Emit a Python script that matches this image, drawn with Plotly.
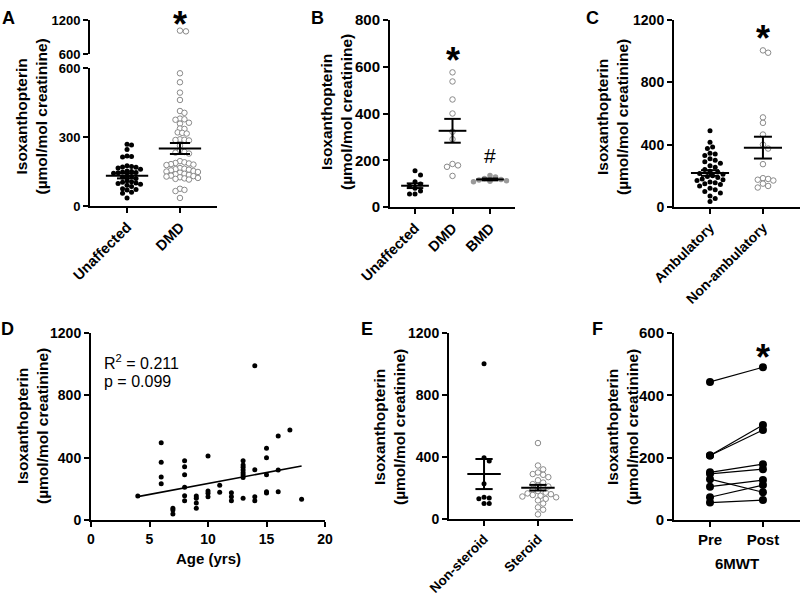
import numpy as np
import plotly.graph_objects as go

W, H = 800, 593
FONT = "Liberation Sans, Arial, Helvetica, sans-serif"

# ---------------- DATA ----------------
# Panel A
a_categories = ["Unaffected", "DMD"]
a_unaffected = [268, 265, 246, 217, 215, 213, 175, 172, 170, 168, 165, 160, 152, 150, 148, 146,
                145, 142, 130, 128, 125, 120, 110, 105, 103, 100, 98, 95, 90, 85, 75, 72, 70, 60, 55, 35]
a_dmd = [1012, 1000, 577, 538, 493, 461, 413, 405, 380, 377, 375, 362, 358, 337, 335, 320, 318, 315,
         290, 288, 287, 285, 262, 240, 235, 232, 228, 195, 190, 187, 185, 182, 180, 178, 165, 162,
         160, 158, 155, 152, 150, 148, 145, 140, 138, 135, 132, 130, 128, 125, 122, 120, 118, 115,
         75, 70, 65, 35]
a_mean = [131, 250]
a_sem = [11, 24]
a_lower_ticks = [0, 300, 600]
a_upper_ticks = [600, 1200]

# Panel B
b_categories = ["Unaffected", "DMD", "BMD"]
b_unaffected = [155, 137, 108, 98, 90, 80, 68, 56, 56]
b_dmd = [576, 537, 460, 400, 322, 290, 184, 178, 172, 133]
b_bmd = [135, 128, 122, 118, 115, 112, 110, 108]
b_mean = [91, 326, 118]
b_sem = [10, 51, 4]
b_ticks = [0, 200, 400, 600, 800]

# Panel C
c_categories = ["Ambulatory", "Non-ambulatory"]
c_ambulatory = [490, 415, 385, 375, 345, 340, 330, 310, 300, 290, 280, 265, 255, 240, 230, 225, 215,
                210, 200, 195, 190, 180, 175, 170, 160, 155, 150, 145, 135, 120, 110, 100, 90, 70, 55, 35]
c_nonambulatory = [1005, 990, 575, 540, 465, 400, 375, 275, 185, 180, 175, 170, 150, 135, 125]
c_mean = [218, 381]
c_sem = [18, 70]
c_ticks = [0, 400, 800, 1200]

# Panel D
d_age = [4, 6, 6, 6, 6, 7, 7, 7, 8, 8, 8, 8, 8, 8, 9, 9, 9, 9, 10, 10, 10, 10, 11, 11, 12, 12, 12,
         13, 13, 13, 13, 13, 13, 13, 13, 14, 14, 14, 14, 15, 15, 15, 15, 15, 16, 16, 16, 17, 18]
d_value = [154, 496, 370, 276, 233, 75, 64, 39, 381, 342, 291, 210, 156, 124, 154, 139, 109, 75,
           411, 186, 171, 150, 223, 178, 175, 150, 124, 381, 353, 338, 321, 304, 289, 272, 139,
           990, 323, 150, 124, 460, 400, 291, 181, 174, 539, 321, 182, 578, 133]
d_fit_age = [4, 18]
d_fit_value = [150, 347]
d_stats = ["R<sup>2</sup> = 0.211", "p = 0.099"]
d_xticks = [0, 5, 10, 15, 20]
d_yticks = [0, 400, 800, 1200]

# Panel E
e_categories = ["Non-steroid", "Steroid"]
e_nonsteroid = [1002, 395, 374, 228, 140, 135, 130, 100, 100]
e_steroid = [490, 345, 320, 300, 290, 285, 270, 250, 235, 225, 215, 210, 200, 190, 180, 170, 165,
             160, 155, 150, 145, 140, 130, 120, 100, 75, 60, 30]
e_mean = [290, 202]
e_sem = [97, 18]
e_ticks = [0, 400, 800, 1200]

# Panel F
f_categories = ["Pre", "Post"]
f_pre = [443, 207, 207, 153, 148, 131, 107, 73, 56]
f_post = [490, 305, 289, 179, 163, 89, 128, 112, 64]
f_ticks = [0, 200, 400, 600]

# significance marks (category index, value)
sig_b = (1, 664)
sig_b_hash = (2, 221)
sig_c = (1, 1136)
sig_f = (1, 550)

YTITLE = "Isoxanthopterin<br>(µmol/mol creatinine)"

# ---------------- HELPERS ----------------
def fx(p):
    return p / W


def fy(p):
    return 1 - p / H


fig = go.Figure()
layout = {}


def ax_name(n, kind):
    return kind + ("" if n == 1 else str(n))


def ref(n, kind):
    return kind[0] + ("" if n == 1 else str(n))


def make_axes(n, xpx, ypx, xrange, yrange, ytickvals, ysize, xtickvals=None, xticktext=None,
              xangle=-45, xsize=15, showx=True):
    tf = lambda s: dict(family=FONT, size=s, color="black", weight="bold")
    xa = dict(
        domain=[fx(xpx[0]), fx(xpx[1])], range=xrange, anchor=ref(n, "y"), automargin=False,
        showline=showx, visible=showx, linecolor="black", linewidth=2,
        ticks="outside", ticklen=5, tickwidth=2, tickcolor="black", showgrid=False, zeroline=False,
        tickangle=xangle, tickfont=tf(xsize), fixedrange=True)
    if xtickvals is not None:
        xa.update(tickmode="array", tickvals=xtickvals, ticktext=xticktext)
    layout[ax_name(n, "xaxis")] = xa
    layout[ax_name(n, "yaxis")] = dict(
        domain=[fy(ypx[1]), fy(ypx[0])], range=yrange, anchor=ref(n, "x"), automargin=False,
        showline=True, linecolor="black", linewidth=2, ticks="outside", ticklen=5, tickwidth=2,
        tickcolor="black", showgrid=False, zeroline=False, tickmode="array", tickvals=ytickvals,
        tickfont=tf(ysize), fixedrange=True)


def swarm(values, center, ppx, ppy, d=4.5):
    vals = np.asarray(values, float)
    order = np.argsort(-vals, kind="stable")
    placed = []
    xs = np.empty(len(vals))
    step = d * 0.5
    offs = [0.0]
    for k in range(1, 80):
        offs += [k * step, -k * step]
    for i in order:
        yp = vals[i] * ppy
        chosen = 0.0
        for off in offs:
            if all((off - qx) ** 2 + (yp - qy) ** 2 >= d * d for qx, qy in placed):
                chosen = off
                break
        placed.append((chosen, yp))
        xs[i] = center + chosen / ppx
    return xs


STYLES = {
    "black": dict(size=5, color="black"),
    "open": dict(size=5.5, color="white", line=dict(color="#8a8a8a", width=1)),
    "gray": dict(size=5.5, color="#9a9a9a"),
}


def points(x, y, n, kind):
    fig.add_trace(go.Scatter(x=list(x), y=list(y), mode="markers", marker=STYLES[kind],
                             xaxis=ref(n, "x"), yaxis=ref(n, "y"), cliponaxis=False,
                             showlegend=False, hoverinfo="skip"))


def mean_sem(means, sems, n, hw, cw):
    xs, ys = [], []
    for c, (m, s) in enumerate(zip(means, sems)):
        xs += [c - hw, c + hw, None, c, c, None, c - cw, c + cw, None, c - cw, c + cw, None]
        ys += [m, m, None, m - s, m + s, None, m + s, m + s, None, m - s, m - s, None]
    fig.add_trace(go.Scatter(x=xs, y=ys, mode="lines", line=dict(color="black", width=2),
                             xaxis=ref(n, "x"), yaxis=ref(n, "y"), cliponaxis=False,
                             showlegend=False, hoverinfo="skip"))


annotations = []


def ann_px(text, x, y, size, bold=True, angle=0, xanchor="center", yanchor="middle"):
    annotations.append(dict(text=text, x=fx(x), y=fy(y), xref="paper", yref="paper",
                            showarrow=False, textangle=angle, xanchor=xanchor, yanchor=yanchor,
                            font=dict(family=FONT, size=size, color="black",
                                      weight="bold" if bold else "normal")))


def ann_data(text, pos, n, size, bold=True, yshift=0):
    annotations.append(dict(text=text, x=pos[0], y=pos[1], xref=ref(n, "x"), yref=ref(n, "y"),
                            showarrow=False, xanchor="center", yanchor="middle", yshift=yshift,
                            font=dict(family=FONT, size=size, color="black",
                                      weight="bold" if bold else "normal")))


# ---------------- PANEL A (broken axis) ----------------
make_axes(1, (90, 217), (68, 206), [-0.7, 1.7], [0, 600], a_lower_ticks, 13,
          [0, 1], a_categories, xsize=14.5)
make_axes(2, (90, 217), (20, 54), [-0.7, 1.7], [600, 1200], a_upper_ticks, 13, showx=False)
ppy_lo, ppy_hi = 138 / 600, 34 / 600
for ci, (vals, kind) in enumerate([(a_unaffected, "black"), (a_dmd, "open")]):
    lo = [v for v in vals if v <= 600]
    hi = [v for v in vals if v > 600]
    points(swarm(lo, ci, 53, ppy_lo), lo, 1, kind)
    if hi:
        points(swarm([v - 600 for v in hi], ci, 53, ppy_hi, d=6), hi, 2, kind)
mean_sem(a_mean, a_sem, 1, 0.40, 0.19)

# ---------------- PANEL B ----------------
make_axes(3, (390, 515), (20, 207), [-0.667, 2.667], [0, 800], b_ticks, 15, [0, 1, 2], b_categories,
          xsize=14.5)
ppy = 187 / 800
for ci, (vals, kind) in enumerate([(b_unaffected, "black"), (b_dmd, "open"), (b_bmd, "gray")]):
    points(swarm(vals, ci, 37.5, ppy, d=5.5), vals, 3, kind)
mean_sem(b_mean, b_sem, 3, 0.37, 0.22)

# ---------------- PANEL C ----------------
make_axes(4, (674, 800), (20, 207), [-0.68, 1.70], [0, 1200], c_ticks, 14, [0, 1], c_categories,
          xsize=14)
ppy = 187 / 1200
for ci, (vals, kind) in enumerate([(c_ambulatory, "black"), (c_nonambulatory, "open")]):
    points(swarm(vals, ci, 53, ppy, d=5.2), vals, 4, kind)
mean_sem(c_mean, c_sem, 4, 0.36, 0.17)

# ---------------- PANEL D ----------------
make_axes(5, (91, 325), (333, 520), [0, 20], [0, 1200], d_yticks, 14, d_xticks,
          [str(t) for t in d_xticks], xangle=0, xsize=14)
fig.add_trace(go.Scatter(x=d_age, y=d_value, mode="markers", marker=STYLES["black"],
                         xaxis="x5", yaxis="y5", cliponaxis=False, showlegend=False, hoverinfo="skip"))
fig.add_trace(go.Scatter(x=d_fit_age, y=d_fit_value, mode="lines", line=dict(color="black", width=1.6),
                         xaxis="x5", yaxis="y5", showlegend=False, hoverinfo="skip"))

# ---------------- PANEL E ----------------
make_axes(6, (449, 573), (333, 519), [-0.65, 1.65], [0, 1200], e_ticks, 14, [0, 1], e_categories,
          xsize=13.5)
ppy = 186 / 1200
for ci, (vals, kind) in enumerate([(e_nonsteroid, "black"), (e_steroid, "open")]):
    points(swarm(vals, ci, 54, ppy, d=5.2), vals, 6, kind)
mean_sem(e_mean, e_sem, 6, 0.31, 0.16)

# ---------------- PANEL F ----------------
make_axes(7, (674, 800), (333, 520), [-0.68, 1.70], [0, 600], f_ticks, 15, [0, 1], f_categories,
          xangle=0, xsize=15)
fx_pairs, fy_pairs = [], []
for a, b in zip(f_pre, f_post):
    fx_pairs += [0, 1, None]
    fy_pairs += [a, b, None]
fig.add_trace(go.Scatter(x=fx_pairs, y=fy_pairs, mode="lines+markers",
                         line=dict(color="black", width=1.2), marker=dict(size=8, color="black"),
                         xaxis="x7", yaxis="y7", cliponaxis=False, showlegend=False, hoverinfo="skip"))

# ---------------- TEXT ----------------
for (x, y) in [(31.5, 117), (336, 112), (613, 117), (32, 426), (389, 427), (622, 427)]:
    ann_px(YTITLE, x, y, 15.5, angle=-90)
for lab, x, y in [("A", 8, 18), ("B", 317, 18), ("C", 592, 18), ("D", 7, 329), ("E", 367, 329),
                  ("F", 597, 329)]:
    ann_px(lab, x, y, 18)
ann_px("*", 180, 2, 36, yanchor="top")
ann_data("*", sig_b, 3, 36, yshift=-9)
ann_data("*", sig_c, 4, 36, yshift=-9)
ann_data("*", sig_f, 7, 36, yshift=-9)
ann_data("#", sig_b_hash, 3, 21, bold=False)
ann_px(d_stats[0], 102, 362, 16, bold=False, xanchor="left")
ann_px(d_stats[1], 102, 381, 16, bold=False, xanchor="left")
ann_px("Age (yrs)", 208, 558, 15)
ann_px("6MWT", 736.5, 563, 15)

fig.update_layout(width=W, height=H, margin=dict(l=0, r=0, t=0, b=0, autoexpand=False),
                  paper_bgcolor="white", plot_bgcolor="white", showlegend=False,
                  annotations=annotations, font=dict(family=FONT, color="black"), **layout)
fig.write_html("out.html", config={"displayModeBar": False},
               post_script="document.body.style.margin='0';document.body.style.overflow='hidden';")
